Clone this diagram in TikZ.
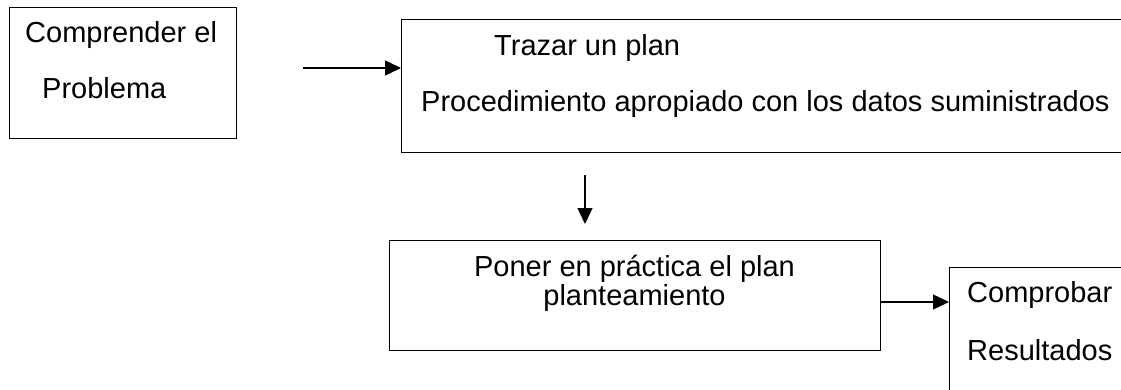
\documentclass[tikz,border=0pt]{standalone}
\usepackage{fontspec}
\setmainfont{Liberation Sans}
\usetikzlibrary{arrows.meta}
\begin{document}
\begin{tikzpicture}[x=1pt,y=-1pt,
  box/.style={draw=black, line width=1.4pt, inner sep=0pt, anchor=north west},
  lbl/.style={inner sep=0pt, anchor=base west, font=\fontsize{29}{29}\selectfont},
  clbl/.style={inner sep=0pt, anchor=base, font=\fontsize{29}{29}\selectfont},
  conn/.style={line width=1.4pt, -{Triangle[length=16pt,width=15pt]}}]
\useasboundingbox (0,0) rectangle (1121,390);
\clip (0,0) rectangle (1121,390);
% boxes
\node[box, minimum width=227pt, minimum height=131pt] (b1) at (9,7) {};
\node[box, minimum width=740pt, minimum height=133pt] (b2) at (401,19) {};
\node[box, minimum width=491pt, minimum height=110pt] (b3) at (389,240) {};
\node[box, minimum width=200pt, minimum height=150pt] (b4) at (949,267) {};
% texts
\node[lbl] (t1a) at (25,43) {Comprender el};
\node[lbl] (t1b) at (42,99) {Problema};
\node[lbl] (t2a) at (494,56) {Trazar un plan};
\node[lbl] (t2b) at (421,112) {Procedimiento apropiado con los datos suministrados};
\node[clbl] (t3a) at (634.5,276) {Poner en práctica el plan};
\node[clbl] (t3b) at (634.5,305) {planteamiento};
\node[lbl] (t4a) at (967,302) {Comprobar};
\node[lbl] (t4b) at (967,360) {Resultados};
% connectors
\coordinate (a1s) at (303,68);
\coordinate (a2s) at (585,175);
\coordinate (a2e) at (585,224);
\coordinate (a3s) at (880,302);
\draw[conn] (a1s) -- (a1s -| b2.west);
\draw[conn] (a2s) -- (a2e);
\draw[conn] (a3s) -- (a3s -| b4.west);
\end{tikzpicture}
\end{document}
